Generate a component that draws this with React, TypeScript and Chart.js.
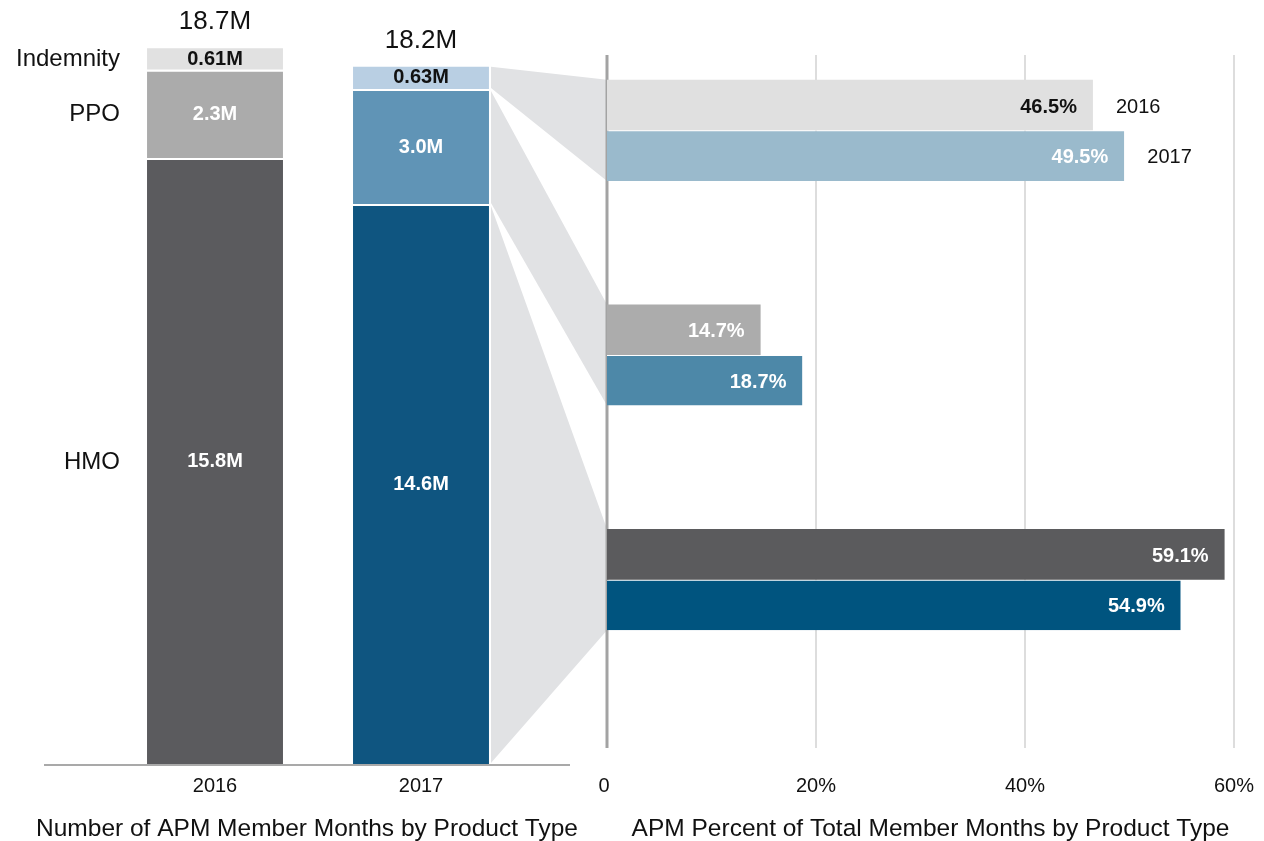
import React, { useEffect, useRef } from 'react';
import { Chart, registerables } from 'chart.js';

Chart.register(...registerables);

// ---------- data ----------
const YEARS = ['2016', '2017'];
const PRODUCTS = ['Indemnity', 'PPO', 'HMO'];
const HMO_MONTHS = [15.8, 14.6];
const PPO_MONTHS = [2.3, 3.0];
const INDEMNITY_MONTHS = [0.61, 0.63];
const PCT_2016 = [46.5, 14.7, 59.1];
const PCT_2017 = [49.5, 18.7, 54.9];
const PCT_TICKS = [0, 20, 40, 60];
const PCT_TICK_LABELS = ['0', '20%', '40%', '60%'];
const LEFT_TITLE = 'Number of APM Member Months by Product Type';
const RIGHT_TITLE = 'APM Percent of Total Member Months by Product Type';

// ---------- styles ----------
const FONT = "'Liberation Sans', Arial, Helvetica, sans-serif";
const TEXT = '#111111';
const LEFT_HMO_COLORS = ['#5b5b5e', '#0f5580'];
const LEFT_PPO_COLORS = ['#ababab', '#6094b6'];
const LEFT_IND_COLORS = ['#e1e1e1', '#b9cfe3'];
const RIGHT_2016_COLORS = ['#e0e0e0', '#acacac', '#5b5b5d'];
const RIGHT_2017_COLORS = ['#9abacc', '#4d88a8', '#00547f'];
const RIGHT_2016_TEXT = ['#111111', '#ffffff', '#ffffff'];
const RIGHT_2017_TEXT = ['#ffffff', '#ffffff', '#ffffff'];
const CONNECTOR = '#e1e2e4';

const fmtM = (v: number) => (v < 1 ? v.toFixed(2) : v.toFixed(1)) + 'M';

export default function App() {
  const leftRef = useRef<HTMLCanvasElement>(null);
  const rightRef = useRef<HTMLCanvasElement>(null);

  useEffect(() => {
    document.body.style.margin = '0';
    const totals = YEARS.map((_, i) => HMO_MONTHS[i] + PPO_MONTHS[i] + INDEMNITY_MONTHS[i]);
    const leftSeries = [
      { name: 'HMO', data: HMO_MONTHS, colors: LEFT_HMO_COLORS, text: '#ffffff' },
      { name: 'PPO', data: PPO_MONTHS, colors: LEFT_PPO_COLORS, text: '#ffffff' },
      { name: 'Indemnity', data: INDEMNITY_MONTHS, colors: LEFT_IND_COLORS, text: '#111111' },
    ];

    const leftPlugin = {
      id: 'leftDecor',
      beforeDatasetsDraw(chart: any) {
        const { ctx, chartArea } = chart;
        ctx.save();
        ctx.strokeStyle = '#a9a9a9';
        ctx.lineWidth = 2;
        ctx.beginPath();
        ctx.moveTo(chartArea.left - 68, chartArea.bottom + 1);
        ctx.lineTo(chartArea.right + 46, chartArea.bottom + 1);
        ctx.stroke();
        ctx.restore();
      },
      afterDatasetsDraw(chart: any) {
        const { ctx, chartArea } = chart;
        ctx.save();
        ctx.textBaseline = 'middle';
        leftSeries.forEach((s, di) => {
          const meta = chart.getDatasetMeta(di);
          meta.data.forEach((el: any, i: number) => {
            ctx.font = `bold 20px ${FONT}`;
            ctx.textAlign = 'center';
            ctx.fillStyle = s.text;
            ctx.fillText(fmtM(s.data[i]), el.x, (el.y + el.base) / 2 + 1);
            if (i === 0) {
              ctx.font = `24px ${FONT}`;
              ctx.textAlign = 'right';
              ctx.fillStyle = TEXT;
              ctx.fillText(s.name, el.x - el.width / 2 - 27, (el.y + el.base) / 2 + 1);
            }
          });
        });
        const topMeta = chart.getDatasetMeta(leftSeries.length - 1);
        topMeta.data.forEach((el: any, i: number) => {
          ctx.font = `26px ${FONT}`;
          ctx.textAlign = 'center';
          ctx.textBaseline = 'alphabetic';
          ctx.fillStyle = TEXT;
          ctx.fillText(totals[i].toFixed(1) + 'M', el.x, el.y - 17);
        });
        // axis title
        ctx.font = `24.5px ${FONT}`;
        ctx.textAlign = 'center';
        ctx.textBaseline = 'middle';
        ctx.fillStyle = TEXT;
        const cx = (chartArea.left - 68 + chartArea.right + 46) / 2;
        ctx.fillText(LEFT_TITLE, cx, 829);
        ctx.restore();
      },
    };

    const leftChart = new Chart(leftRef.current!, {
      type: 'bar',
      data: {
        labels: YEARS,
        datasets: leftSeries.map((s) => ({
          label: s.name,
          data: s.data,
          backgroundColor: s.colors,
          borderColor: '#ffffff',
          borderWidth: { top: 2, left: 0, right: 0, bottom: 0 },
          categoryPercentage: 1,
          barPercentage: 0.66,
        })),
      },
      options: {
        responsive: false,
        animation: false,
        layout: { padding: { left: 112, right: 740, top: 16, bottom: 33 } },
        plugins: { legend: { display: false }, tooltip: { enabled: false } },
        scales: {
          x: {
            stacked: true,
            grid: { display: false, drawTicks: false },
            border: { display: false },
            ticks: { padding: 10, color: TEXT, font: { family: FONT, size: 20 } },
          },
          y: { stacked: true, display: false, min: 0, max: 19.5 },
        },
      },
      plugins: [leftPlugin],
    } as any);

    const rightPlugin = {
      id: 'rightDecor',
      beforeDatasetsDraw(chart: any) {
        const { ctx, chartArea } = chart;
        const xs = chart.scales.x;
        const axisX = xs.getPixelForValue(0);
        ctx.save();
        // connectors from the 2017 stacked bar to each product group
        PRODUCTS.forEach((p, k) => {
          const li = leftSeries.findIndex((s) => s.name === p);
          const seg: any = leftChart.getDatasetMeta(li).data[1];
          const xL = seg.x + seg.width / 2 + 2;
          const a: any = chart.getDatasetMeta(0).data[k];
          const b: any = chart.getDatasetMeta(1).data[k];
          const gTop = a.y - a.height / 2;
          const gBot = b.y + b.height / 2;
          ctx.fillStyle = CONNECTOR;
          ctx.beginPath();
          ctx.moveTo(xL, seg.y + 2);
          ctx.lineTo(axisX, gTop);
          ctx.lineTo(axisX, gBot);
          ctx.lineTo(xL, seg.base - 1);
          ctx.closePath();
          ctx.fill();
        });
        // grid lines
        const yTop = chartArea.top + 37;
        const yBot = chartArea.bottom + 56;
        ctx.strokeStyle = '#d2d2d2';
        ctx.lineWidth = 1.5;
        PCT_TICKS.forEach((t) => {
          if (t === 0) return;
          const x = xs.getPixelForValue(t);
          ctx.beginPath();
          ctx.moveTo(x, yTop);
          ctx.lineTo(x, yBot);
          ctx.stroke();
        });
        ctx.strokeStyle = '#a3a3a3';
        ctx.lineWidth = 3;
        ctx.beginPath();
        ctx.moveTo(axisX, yTop);
        ctx.lineTo(axisX, yBot);
        ctx.stroke();
        // tick labels
        ctx.font = `20px ${FONT}`;
        ctx.textAlign = 'center';
        ctx.textBaseline = 'middle';
        ctx.fillStyle = TEXT;
        PCT_TICKS.forEach((t, i) => {
          ctx.fillText(PCT_TICK_LABELS[i], xs.getPixelForValue(t) - (t === 0 ? 3 : 0), 786);
        });
        // axis title
        ctx.font = `24.5px ${FONT}`;
        ctx.fillText(RIGHT_TITLE, (chartArea.left + chartArea.right) / 2 + 10, 829);
        ctx.restore();
      },
      afterDatasetsDraw(chart: any) {
        const { ctx } = chart;
        const textColors = [RIGHT_2016_TEXT, RIGHT_2017_TEXT];
        ctx.save();
        ctx.textBaseline = 'middle';
        chart.data.datasets.forEach((ds: any, di: number) => {
          chart.getDatasetMeta(di).data.forEach((el: any, i: number) => {
            ctx.font = `bold 20px ${FONT}`;
            ctx.textAlign = 'right';
            ctx.fillStyle = textColors[di][i];
            ctx.fillText(ds.data[i].toFixed(1) + '%', el.x - 16, el.y + 2);
            if (i === 0) {
              ctx.font = `20px ${FONT}`;
              ctx.textAlign = 'left';
              ctx.fillStyle = TEXT;
              ctx.fillText(ds.label, el.x + 23, el.y + 2);
            }
          });
        });
        ctx.restore();
      },
    };

    const rightChart = new Chart(rightRef.current!, {
      type: 'bar',
      data: {
        labels: PRODUCTS,
        datasets: [
          {
            label: YEARS[0],
            data: PCT_2016,
            backgroundColor: RIGHT_2016_COLORS,
            borderWidth: 0,
            categoryPercentage: 0.45,
            barPercentage: 1,
          },
          {
            label: YEARS[1],
            data: PCT_2017,
            backgroundColor: RIGHT_2017_COLORS,
            borderColor: '#ffffff',
            borderWidth: { top: 1, left: 0, right: 0, bottom: 0 },
            categoryPercentage: 0.45,
            barPercentage: 1,
          },
        ],
      },
      options: {
        indexAxis: 'y',
        responsive: false,
        animation: false,
        layout: { padding: { left: 607, right: 30, top: 18, bottom: 149 } },
        plugins: { legend: { display: false }, tooltip: { enabled: false } },
        scales: {
          x: { display: false, min: 0, max: 60 },
          y: { type: 'category', display: false, offset: true },
        },
      },
      plugins: [rightPlugin],
    } as any);

    return () => {
      rightChart.destroy();
      leftChart.destroy();
    };
  }, []);

  return (
    <div style={{ position: 'relative', width: 1264, height: 841, overflow: 'hidden', background: '#fff' }}>
      <canvas ref={leftRef} width={1264} height={841} style={{ position: 'absolute', left: 0, top: 0 }} />
      <canvas ref={rightRef} width={1264} height={841} style={{ position: 'absolute', left: 0, top: 0 }} />
    </div>
  );
}
